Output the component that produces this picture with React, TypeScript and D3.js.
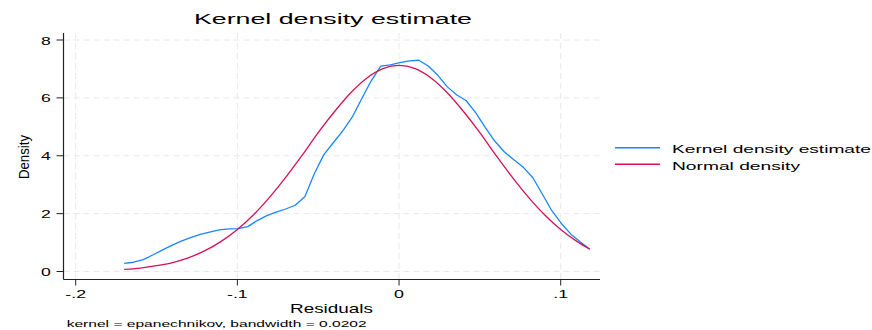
import React, { useRef, useEffect } from 'react';
import * as d3 from 'd3';

// kernel density evaluation points (residuals) and estimates
const residuals = [
  -0.1700, -0.1641, -0.1582, -0.1524, -0.1465, -0.1406, -0.1347, -0.1289, -0.1230, -0.1171,
  -0.1112, -0.1053, -0.0995, -0.0936, -0.0877, -0.0818, -0.0760, -0.0701, -0.0642, -0.0583,
  -0.0524, -0.0466, -0.0407, -0.0348, -0.0289, -0.0231, -0.0172, -0.0113, -0.0054, 0.0005,
  0.0064, 0.0122, 0.0181, 0.0240, 0.0299, 0.0358, 0.0416, 0.0475, 0.0534, 0.0593,
  0.0651, 0.0710, 0.0769, 0.0828, 0.0887, 0.0945, 0.1004, 0.1063, 0.1122, 0.1181,
];
const kernelDensity = [
  0.28, 0.32, 0.41, 0.57, 0.74, 0.90, 1.05, 1.17, 1.28, 1.36,
  1.44, 1.47, 1.48, 1.55, 1.76, 1.93, 2.05, 2.16, 2.29, 2.58,
  3.38, 4.03, 4.45, 4.86, 5.34, 5.97, 6.59, 7.10, 7.14, 7.22,
  7.28, 7.30, 7.10, 6.78, 6.38, 6.10, 5.90, 5.48, 4.97, 4.50,
  4.14, 3.86, 3.60, 3.24, 2.67, 2.10, 1.66, 1.29, 1.02, 0.77,
];

// normal density overlay
const normalX = [
  -0.17, -0.16, -0.15, -0.14, -0.13, -0.12, -0.11, -0.10, -0.09, -0.08,
  -0.07, -0.06, -0.05, -0.04, -0.03, -0.02, -0.01, 0, 0.01, 0.02,
  0.03, 0.04, 0.05, 0.06, 0.07, 0.08, 0.09, 0.10, 0.11, 0.118,
];
const normalDensity = [
  0.07, 0.12, 0.20, 0.31, 0.48, 0.72, 1.04, 1.45, 1.96, 2.57,
  3.26, 4.01, 4.80, 5.52, 6.17, 6.68, 7.01, 7.12, 7.01, 6.68,
  6.17, 5.52, 4.80, 4.01, 3.26, 2.57, 1.96, 1.45, 1.04, 0.77,
];

const xTicks = [-0.2, -0.1, 0, 0.1];
const xTickLabels = ['-.2', '-.1', '0', '.1'];
const yTicks = [0, 2, 4, 6, 8];
const yTickLabels = ['0', '2', '4', '6', '8'];
const legendLabels = ['Kernel density estimate', 'Normal density'];

const W = 872;
const H = 330;
const BLUE = '#1a85ff';
const RED = '#d41159';

const App = () => {
  const ref = useRef<SVGSVGElement>(null);

  useEffect(() => {
    const svg = d3.select(ref.current);
    svg.selectAll('*').remove();

    const plot = { left: 63.5, right: 600, top: 33, bottom: 279.5 };

    const x = d3.scaleLinear().domain([-0.2, 0.1]).range([75.7, 560.7]);
    const y = d3.scaleLinear().domain([0, 8]).range([271.5, 40]);

    svg.append('rect').attr('width', W).attr('height', H).attr('fill', 'white');

    // grid
    const grid = svg.append('g')
      .attr('stroke', '#e8e8e8')
      .attr('stroke-width', 1)
      .attr('stroke-dasharray', '6,4');
    grid.selectAll('.hg')
      .data(yTicks)
      .enter()
      .append('line')
      .attr('x1', plot.left).attr('x2', plot.right)
      .attr('y1', d => y(d)).attr('y2', d => y(d));
    grid.selectAll('.vg')
      .data(xTicks)
      .enter()
      .append('line')
      .attr('x1', d => x(d)).attr('x2', d => x(d))
      .attr('y1', plot.top).attr('y2', plot.bottom);

    // curves
    const kdLine = d3.line<number>()
      .x((d, i) => x(residuals[i]))
      .y(d => y(d));
    svg.append('path')
      .datum(kernelDensity)
      .attr('fill', 'none')
      .attr('stroke', BLUE)
      .attr('stroke-width', 1.3)
      .attr('stroke-linejoin', 'round')
      .attr('d', kdLine);

    const normLine = d3.line<number>()
      .x((d, i) => x(normalX[i]))
      .y(d => y(d))
      .curve(d3.curveMonotoneX);
    svg.append('path')
      .datum(normalDensity)
      .attr('fill', 'none')
      .attr('stroke', RED)
      .attr('stroke-width', 1.3)
      .attr('d', normLine);

    const font = 'Liberation Sans, Arial, Helvetica, sans-serif';
    const ink = '#000';

    // axes
    const axisColor = '#222';
    svg.append('line')
      .attr('x1', plot.left).attr('x2', plot.left)
      .attr('y1', plot.top).attr('y2', plot.bottom)
      .attr('stroke', axisColor).attr('stroke-width', 1.2);
    svg.append('line')
      .attr('x1', plot.left).attr('x2', plot.right)
      .attr('y1', plot.bottom).attr('y2', plot.bottom)
      .attr('stroke', axisColor).attr('stroke-width', 1.2);

    svg.selectAll('.yt')
      .data(yTicks)
      .enter()
      .append('line')
      .attr('x1', plot.left - 7).attr('x2', plot.left)
      .attr('y1', d => y(d)).attr('y2', d => y(d))
      .attr('stroke', axisColor);
    svg.selectAll('.xt')
      .data(xTicks)
      .enter()
      .append('line')
      .attr('x1', d => x(d)).attr('x2', d => x(d))
      .attr('y1', plot.bottom).attr('y2', plot.bottom + 6)
      .attr('stroke', axisColor);

    const stretch = (sel, factor) => sel.each(function () {
      const len = this.getComputedTextLength();
      d3.select(this).attr('textLength', len * factor).attr('lengthAdjust', 'spacingAndGlyphs');
    });

    svg.selectAll('.yl')
      .data(yTicks)
      .enter()
      .append('text')
      .attr('x', 50.7)
      .attr('y', d => y(d) + 4.6)
      .attr('text-anchor', 'end')
      .attr('font-family', font)
      .attr('font-size', 11)
      .attr('fill', ink)
      .text((d, i) => yTickLabels[i])
      .call(stretch, 1.6);

    svg.selectAll('.xl')
      .data(xTicks)
      .enter()
      .append('text')
      .attr('x', d => x(d))
      .attr('y', 298)
      .attr('text-anchor', 'middle')
      .attr('font-family', font)
      .attr('font-size', 11.5)
      .attr('fill', ink)
      .text((d, i) => xTickLabels[i])
      .call(stretch, 1.55);

    // title
    svg.append('text')
      .attr('x', 194).attr('y', 24)
      .attr('font-family', font).attr('font-size', 15.5)
      .attr('fill', ink)
      .attr('textLength', 278).attr('lengthAdjust', 'spacingAndGlyphs')
      .text('Kernel density estimate');

    // axis titles
    svg.append('text')
      .attr('x', 290).attr('y', 312.5)
      .attr('font-family', font).attr('font-size', 13)
      .attr('fill', ink)
      .attr('textLength', 83).attr('lengthAdjust', 'spacingAndGlyphs')
      .text('Residuals');

    svg.append('text')
      .attr('transform', 'translate(28.5,179) rotate(-90)')
      .attr('font-family', font).attr('font-size', 15.5)
      .attr('fill', ink)
      .attr('textLength', 44).attr('lengthAdjust', 'spacingAndGlyphs')
      .text('Density');

    // note
    svg.append('text')
      .attr('x', 66.7).attr('y', 327)
      .attr('font-family', font).attr('font-size', 9.8)
      .attr('fill', ink)
      .attr('textLength', 300).attr('lengthAdjust', 'spacingAndGlyphs')
      .text('kernel = epanechnikov, bandwidth = 0.0202');

    // legend
    const legendColors = [BLUE, RED];
    const legendWidths = [199, 128];
    const lg = svg.append('g');
    legendLabels.forEach((label, i) => {
      const ly = 147.7 + i * 16.6;
      lg.append('line')
        .attr('x1', 615).attr('x2', 660)
        .attr('y1', ly).attr('y2', ly)
        .attr('stroke', legendColors[i])
        .attr('stroke-width', 1.5);
      lg.append('text')
        .attr('x', 672).attr('y', ly + 5.3)
        .attr('font-family', font).attr('font-size', 11.8)
        .attr('fill', ink)
        .attr('textLength', legendWidths[i]).attr('lengthAdjust', 'spacingAndGlyphs')
        .text(label);
    });
  }, []);

  return (
    <svg
      ref={ref}
      width={W}
      height={H}
      style={{ position: 'absolute', left: 0, top: 0, display: 'block' }}
    />
  );
};

export default App;
